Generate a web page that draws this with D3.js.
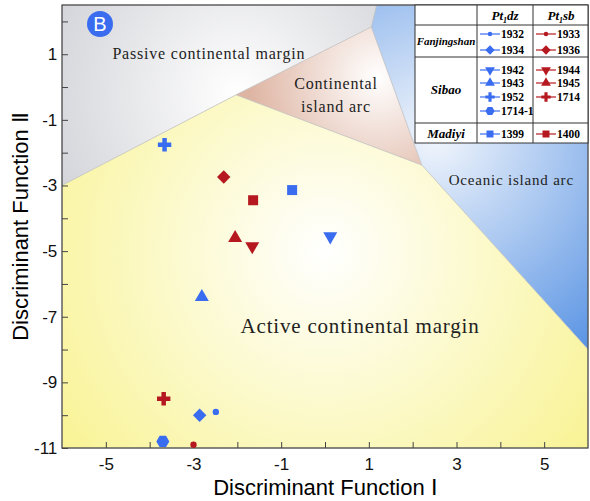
<!DOCTYPE html>
<html><head><meta charset="utf-8">
<script src="https://cdn.jsdelivr.net/npm/d3@7"></script>
<style>body{margin:0;background:#fff}</style>
</head><body>
<script>
const xTicks = [-5, -3, -1, 1, 3, 5];
const yTicks = [1, -1, -3, -5, -7, -9, -11];
// field boundaries (data units)
const passive = [[-6, 2.5], [1.18, 2.5], [1.06, 1.83], [-2.03, -0.24], [-6, -3]];
const cia = [[1.06, 1.83], [2.21, -2.38], [-2.03, -0.24]];
const oia = [[1.18, 2.5], [6, 2.5], [6, -8.0], [2.21, -2.38], [1.06, 1.83]];
const acm = [[-6, -3], [-2.03, -0.24], [2.21, -2.38], [6, -8.0], [6, -11], [-6, -11]];
// samples: name, group, x, y, shape
const samples = [
  ["1932", "dz", -2.49, -9.9, "smallcircle"],
  ["1934", "dz", -2.86, -10.0, "diamond"],
  ["1942", "dz", 0.12, -4.55, "down"],
  ["1943", "dz", -2.81, -6.4, "up"],
  ["1952", "dz", -3.66, -1.76, "cross"],
  ["1714-1", "dz", -3.7, -10.8, "hex"],
  ["1399", "dz", -0.75, -3.14, "square"],
  ["1933", "sb", -3.0, -10.9, "smallcircle"],
  ["1936", "sb", -2.31, -2.74, "diamond"],
  ["1944", "sb", -1.66, -4.85, "down"],
  ["1945", "sb", -2.05, -4.6, "up"],
  ["1714", "sb", -3.68, -9.5, "cross"],
  ["1400", "sb", -1.64, -3.45, "square"]
];
const colors = {dz: "#3a6cf0", sb: "#b5191f"};

const W = 590, H = 501, m = {l: 62, r: 2, t: 5, b: 53};
const svg = d3.select("body").append("svg").attr("width", W).attr("height", H);
const x = d3.scaleLinear().domain([-6, 6]).range([m.l, W - m.r]);
const y = d3.scaleLinear().domain([-11, 2.5]).range([H - m.b, m.t]);

const defs = svg.append("defs");
function grad(id, cx, cy, r, c0, c1) {
  const g = defs.append("radialGradient").attr("id", id).attr("gradientUnits", "userSpaceOnUse")
    .attr("cx", cx).attr("cy", cy).attr("r", r);
  g.append("stop").attr("offset", 0).attr("stop-color", c0);
  g.append("stop").attr("offset", 1).attr("stop-color", c1);
}
grad("gP", x(-2), y(-0.2), 230, "#ffffff", "#cdced4");
grad("gC", x(1.2), y(0.3), 130, "#ffffff", "#deb4a2");
grad("gO", x(2.5), y(-1.5), 280, "#f2f6fc", "#4f8de2");
grad("gA", x(0), y(-5), 360, "#ffffff", "#f8f28a");

const line = d3.line().x(d => x(d[0])).y(d => y(d[1]));
[[passive, "gP"], [cia, "gC"], [oia, "gO"], [acm, "gA"]].forEach(([p, g]) =>
  svg.append("path").attr("d", line(p) + "Z").attr("fill", `url(#${g})`)
    .attr("stroke", "#c0c0c0").attr("stroke-width", 0.6));

// frame + axes
svg.append("rect").attr("x", m.l).attr("y", m.t).attr("width", W - m.l - m.r).attr("height", H - m.t - m.b)
  .attr("fill", "none").attr("stroke", "#444").attr("stroke-width", 1.2);
const xa = svg.append("g").attr("transform", `translate(0,${H - m.b})`)
  .call(d3.axisBottom(x).tickValues(d3.range(-5, 6, 1)).tickSize(-6).tickFormat(d => xTicks.includes(d) ? d : ""));
const ya = svg.append("g").attr("transform", `translate(${m.l},0)`)
  .call(d3.axisLeft(y).tickValues(d3.range(-11, 2.5, 1)).tickSize(-6).tickFormat(d => yTicks.includes(d) ? d : ""));
[xa, ya].forEach(a => {
  a.select(".domain").remove();
  a.selectAll("line").attr("stroke", "#444");
  a.selectAll("text").attr("font-family", "Liberation Sans, Arial").attr("font-size", 17).attr("fill", "#111");
});
xa.selectAll("text").attr("dy", "1.1em");
ya.selectAll("text").attr("dx", "-0.1em");

svg.append("text").attr("x", (m.l + W - m.r) / 2).attr("y", 495).attr("text-anchor", "middle")
  .attr("font-family", "Liberation Sans, Arial").attr("font-size", 22).text("Discriminant Function Ⅰ");
svg.append("text").attr("transform", `translate(28,${(m.t + H - m.b) / 2}) rotate(-90)`).attr("text-anchor", "middle")
  .attr("font-family", "Liberation Sans, Arial").attr("font-size", 22).text("Discriminant Function Ⅱ");

// field labels
const serif = "Liberation Serif, Times New Roman";
[["Passive continental margin", x(-2.65), y(0.85), 16],
 ["Continental", x(0.25), y(-0.05), 16], ["island arc", x(0.25), y(-0.75), 16],
 ["Oceanic island arc", x(4.25), y(-3.0), 15],
 ["Active continental margin", x(0.8), y(-7.5), 21]].forEach(([t, tx, ty, fs]) =>
  svg.append("text").attr("x", tx).attr("y", ty).attr("text-anchor", "middle")
    .attr("font-family", serif).attr("font-size", fs).attr("letter-spacing", 0.8).attr("fill", "#222").text(t));

// B badge
svg.append("circle").attr("cx", 100).attr("cy", 24).attr("r", 13).attr("fill", "#3a6cf0");
svg.append("text").attr("x", 100).attr("y", 31).attr("text-anchor", "middle").attr("fill", "#fff")
  .attr("font-family", "Liberation Sans, Arial").attr("font-size", 20).text("B");

// marker shapes
const symTypes = {
  smallcircle: [d3.symbolCircle, 32],
  diamond: [d3.symbolSquare, 90],
  cross: [d3.symbolCross, 100],
  square: [d3.symbolSquare, 100],
  up: [d3.symbolTriangle, 85],
  down: [d3.symbolTriangle, 85]
};
function drawSym(parent, d, tx, ty, scale) {
  const g = parent.append("g").attr("transform", `translate(${tx},${ty}) scale(${scale})`).attr("fill", colors[d[1]]);
  const s = d[4];
  if (s === "hex") {
    const r = 6.5;
    g.append("path").attr("d", d3.line()(d3.range(6).map(i => [r * Math.cos(i * Math.PI / 3), r * Math.sin(i * Math.PI / 3)])) + "Z");
  } else {
    const p = g.append("path").attr("d", d3.symbol(symTypes[s][0], symTypes[s][1])());
    if (s === "down") p.attr("transform", "rotate(180)");
    if (s === "diamond") p.attr("transform", "rotate(45)");
  }
}
svg.append("g").selectAll("g").data(samples).join("g").each(function(d) {
  drawSym(d3.select(this), d, x(d[2]), y(d[3]), 1);
});

// legend table
const L = svg.append("g");
const cols = [415, 477, 533, 588], rows = [5, 25, 57, 123, 143];
L.append("rect").attr("x", cols[0]).attr("y", rows[0]).attr("width", cols[3] - cols[0]).attr("height", rows[4] - rows[0])
  .attr("fill", "#fff").attr("stroke", "#333");
cols.slice(1, 3).forEach(c => L.append("line").attr("x1", c).attr("x2", c).attr("y1", rows[0]).attr("y2", rows[4]).attr("stroke", "#333"));
rows.slice(1, 4).forEach(r => L.append("line").attr("x1", cols[0]).attr("x2", cols[3]).attr("y1", r).attr("y2", r).attr("stroke", "#333"));
const hdr = [["Pt", "1", "dz", 505], ["Pt", "1", "sb", 561]];
hdr.forEach(([a, s, b, cx]) => {
  const t = L.append("text").attr("x", cx).attr("y", 20).attr("text-anchor", "middle")
    .attr("font-family", serif).attr("font-size", 13).attr("font-weight", "bold").attr("font-style", "italic");
  t.append("tspan").text(a);
  t.append("tspan").attr("font-size", 8).attr("dy", 3).text(s);
  t.append("tspan").attr("dy", -3).text(b);
});
[["Fanjingshan", 45, 11], ["Sibao", 94, 13], ["Madiyi", 138, 13]].forEach(([t, ty, fs]) =>
  L.append("text").attr("x", 446).attr("y", ty).attr("text-anchor", "middle").attr("font-family", serif)
    .attr("font-size", fs).attr("font-weight", "bold").attr("font-style", "italic").text(t));
const legY = {"1932": 34, "1934": 50, "1942": 70, "1943": 83, "1952": 97, "1714-1": 111, "1399": 134,
  "1933": 34, "1936": 50, "1944": 70, "1945": 83, "1714": 97, "1400": 134};
samples.forEach(d => {
  const x0 = d[1] === "dz" ? 480 : 536, ly = legY[d[0]];
  L.append("line").attr("x1", x0).attr("x2", x0 + 20).attr("y1", ly).attr("y2", ly).attr("stroke", colors[d[1]]).attr("stroke-width", 1.2);
  drawSym(L, d, x0 + 10, ly, 0.7);
  L.append("text").attr("x", x0 + 21).attr("y", ly + 4).attr("font-family", serif).attr("font-size", 11.5)
    .attr("font-weight", "bold").text(d[0]);
});
</script>
</body></html>
